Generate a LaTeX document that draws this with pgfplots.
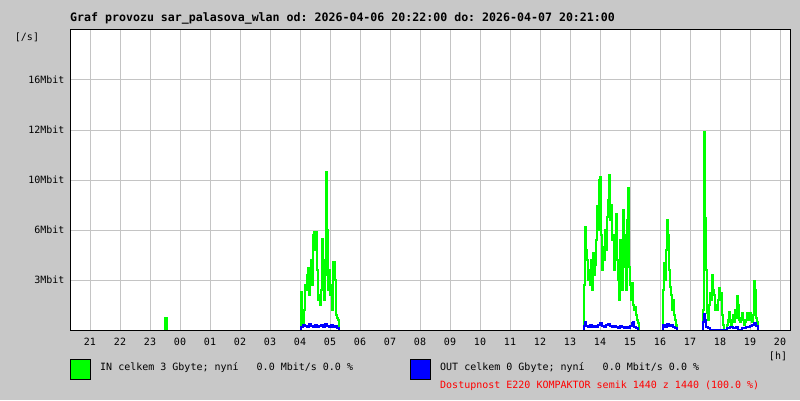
\documentclass[border=0pt]{standalone}
\usepackage{pgfplots}
\pgfplotsset{compat=1.18}
\usepackage{fontspec}
\setmonofont{DejaVu Sans Mono}
\definecolor{bgc}{RGB}{200,200,200}
\definecolor{gridc}{RGB}{196,196,196}
\definecolor{ingreen}{RGB}{0,255,0}
\definecolor{outblue}{RGB}{0,0,255}
\newcommand{\lbl}{\ttfamily\fontsize{10}{12}\selectfont}
\begin{document}
\begin{tikzpicture}[x=1pt,y=1pt]
\fill[bgc] (0,0) rectangle (800,400);
\begin{axis}[
  at={(70pt,70pt)}, anchor=south west,
  scale only axis, width=720pt, height=300pt,
  xmin=0, xmax=720, ymin=0, ymax=300,
  axis background/.style={fill=white},
  axis line style={line width=1pt},
  xtick={20,50,...,710},
  xticklabels={21,22,23,00,01,02,03,04,05,06,07,08,09,10,11,12,13,14,15,16,17,18,19,20},
  ytick={50,100,150,200,250},
  yticklabels={3Mbit,6Mbit,10Mbit,12Mbit,16Mbit},
  grid=major,
  major grid style={gridc, line width=1pt},
  major tick length=0pt,
  tick label style={font=\lbl},
  xticklabel style={anchor=center, yshift=-12pt},
  yticklabel style={anchor=east, xshift=-2pt},
  const plot,
  every axis plot/.append style={line width=1.1pt},
]
% IN
\addplot[ingreen] coordinates {(94,0)(95,12)(97,0)};
\addplot[ingreen] coordinates {
(230,0)(231,38)(232,10)(233,5)(234,20)(235,45)(236,40)(237,55)(238,62)(239,35)
(240,60)(241,70)(242,45)(243,95)(244,98)(245,80)(246,98)(247,60)(248,30)(249,35)
(250,25)(251,40)(252,91)(253,70)(254,30)(255,55)(256,158)(257,100)(258,40)(259,60)
(260,35)(261,45)(262,20)(263,68)(264,68)(265,50)(266,15)(267,12)(268,10)(269,0)};
\addplot[ingreen] coordinates {
(513,0)(514,45)(515,103)(516,80)(517,70)(518,50)(519,60)(520,45)(521,70)(522,40)
(523,77)(524,55)(525,65)(526,90)(527,124)(528,100)(529,150)(530,153)(531,95)(532,60)
(533,83)(534,70)(535,100)(536,80)(537,113)(538,130)(539,155)(540,110)(541,125)(542,90)
(543,95)(544,60)(545,80)(546,116)(547,70)(548,50)(549,30)(550,90)(551,55)(552,40)
(553,120)(554,95)(555,63)(556,40)(557,110)(558,142)(559,63)(560,45)(561,30)(562,47)
(563,25)(564,20)(565,23)(566,15)(567,10)(568,7)(569,0)};
\addplot[ingreen] coordinates {
(592,0)(593,40)(594,67)(595,50)(596,80)(597,110)(598,95)(599,60)(600,43)(601,35)
(602,20)(603,30)(604,15)(605,10)(606,5)(607,0)};
\addplot[ingreen] coordinates {
(632,0)(633,20)(634,198)(635,112)(636,60)(637,17)(638,10)(639,25)(640,37)(641,30)
(642,55)(643,40)(644,35)(645,20)(646,25)(647,20)(648,30)(649,42)(650,30)(651,37)
(652,15)(653,5)(654,0)(657,5)(658,10)(659,18)(660,8)(661,5)(662,10)(663,15)
(664,8)(665,20)(666,12)(667,34)(668,25)(669,10)(670,8)(671,12)(672,17)(673,10)
(674,5)(675,8)(676,10)(677,17)(678,12)(679,10)(680,17)(681,12)(682,8)(683,15)
(684,49)(685,40)(686,12)(687,8)(688,0)};
% OUT
\addplot[outblue] coordinates {
(230,0)(231,3)(233,5)(235,4)(237,3)(239,6)(241,4)(243,3)(245,5)(247,3)(249,4)
(251,5)(253,3)(255,6)(257,4)(259,3)(261,5)(263,3)(265,4)(267,2)(269,0)};
\addplot[outblue] coordinates {
(513,0)(514,4)(515,8)(516,4)(518,3)(520,5)(522,3)(524,4)(526,3)(528,5)(530,7)
(532,4)(534,3)(536,5)(538,6)(540,4)(542,3)(544,4)(546,3)(548,2)(550,4)(552,3)
(554,2)(556,3)(558,2)(560,4)(562,7)(563,8)(564,3)(566,2)(568,0)};
\addplot[outblue] coordinates {
(592,0)(593,5)(595,3)(597,6)(599,4)(601,5)(603,3)(605,2)(607,0)};
\addplot[outblue] coordinates {
(632,0)(633,8)(634,16)(635,10)(636,3)(638,2)(640,0)(657,2)(660,3)(663,2)(666,3)
(668,0)(672,2)(676,3)(680,4)(682,5)(684,7)(686,4)(688,0)};
\end{axis}
\draw[line width=1pt] (70,70) rectangle (790,370);
\node[anchor=west, inner sep=0pt, font=\ttfamily\bfseries\fontsize{11.6}{13}\selectfont] at (70,382)
  {Graf provozu sar\_palasova\_wlan od: 2026-04-06 20:22:00 do: 2026-04-07 20:21:00};
\node[font=\lbl, inner sep=0pt] at (27,363) {[/s]};
\node[font=\lbl, inner sep=0pt] at (778,44) {[h]};
\draw[fill=ingreen] (70.5,20.5) rectangle (90.5,40.5);
\draw[fill=outblue] (410.5,20.5) rectangle (430.5,40.5);
\node[anchor=west, inner sep=0pt, font=\lbl] at (100,32)
  {IN celkem 3 Gbyte; nyní~~~0.0 Mbit/s 0.0 \%};
\node[anchor=west, inner sep=0pt, font=\lbl] at (440,32)
  {OUT celkem 0 Gbyte; nyní~~~0.0 Mbit/s 0.0 \%};
\node[anchor=west, inner sep=0pt, font=\lbl, text=red] at (440,14)
  {Dostupnost E220 KOMPAKTOR semik 1440 z 1440 (100.0 \%)};
\end{tikzpicture}
\end{document}
